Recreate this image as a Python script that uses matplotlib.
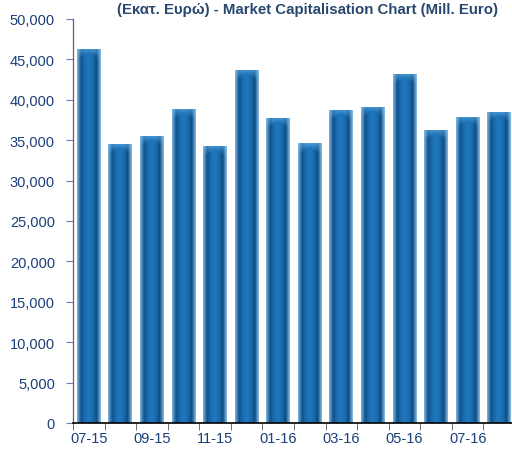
import numpy as np
import matplotlib
matplotlib.use("Agg")
import matplotlib.pyplot as plt
from matplotlib.colors import LinearSegmentedColormap

# Data (million euro)
months = ["07-15", "08-15", "09-15", "10-15", "11-15", "12-15", "01-16",
          "02-16", "03-16", "04-16", "05-16", "06-16", "07-16", "08-16"]
market_cap = [46300, 34500, 35550, 38850, 34300, 43700, 37750,
              34600, 38750, 39150, 43250, 36250, 37850, 38450]
yticks = [0, 5000, 10000, 15000, 20000, 25000, 30000, 35000, 40000, 45000, 50000]
title = "(Εκατ. Ευρώ) - Market Capitalisation Chart (Mill. Euro)"

plt.rcParams['font.family'] = ['Liberation Sans', 'DejaVu Sans']
navy = "#1b3f78"

fig = plt.figure(figsize=(5.12, 4.52), dpi=100)
ax = fig.add_axes([0.1426, 0.062, 0.8633, 0.8938])

x = np.arange(len(months))
bars = ax.bar(x, market_cap, width=0.76, color="#1a6cae", zorder=2)

# cylinder look: horizontal gradient clipped to each bar
cyl = LinearSegmentedColormap.from_list(
    "cyl", ["#7fb4dc", "#0f5290", "#1a6fb2", "#2078bb", "#1a6cae", "#0e4d85", "#8bbde2"])
grad = np.linspace(0, 1, 64).reshape(1, -1)

# soft light overlay at the top of each bar
ny, nx = 24, 32
yy = np.linspace(0, 1, ny).reshape(-1, 1)   # 0 = top
xx = np.abs(np.linspace(-1, 1, nx)).reshape(1, -1)
alpha = np.clip(1 - yy / (0.35 + 0.65 * xx), 0, 1) * 0.55
glow = np.zeros((ny, nx, 4))
glow[..., 0], glow[..., 1], glow[..., 2] = 0.45, 0.75, 0.95
glow[..., 3] = alpha

for b in bars:
    x0, w, h = b.get_x(), b.get_width(), b.get_height()
    im = ax.imshow(grad, cmap=cyl, aspect="auto", extent=[x0, x0 + w, 0, h], zorder=3)
    im.set_clip_path(b)
    cap = ax.imshow(glow, aspect="auto", extent=[x0, x0 + w, h - 1500, h], zorder=4)
    cap.set_clip_path(b)

ax.set_xlim(-0.5, len(months) - 0.5)
ax.set_ylim(0, 50000)

ax.set_yticks(yticks)
ax.set_yticklabels([f"{v:,}" for v in yticks])
ax.set_xticks(x[::2])
ax.set_xticklabels(months[::2])
ax.set_xticks(np.arange(-0.5, len(months), 1), minor=True)
ax.tick_params(axis="x", which="major", length=0, pad=6, labelsize=10.5, labelcolor=navy)
ax.tick_params(axis="x", which="minor", length=5, color="#555555")
ax.tick_params(axis="y", length=5, color="#7a7aa8", pad=8, labelsize=10.5, labelcolor=navy)

for s in ["top", "right"]:
    ax.spines[s].set_visible(False)
ax.spines["left"].set_color("#5c5c9c")
ax.spines["left"].set_linewidth(0.9)
ax.spines["bottom"].set_color("black")
ax.spines["bottom"].set_linewidth(1.2)
ax.spines["bottom"].set_zorder(5)

fig.text(0.600, 0.978, title, ha="center", va="center", fontsize=10.8,
         fontweight="bold", color="#27476e")

fig.savefig("out.png", dpi=100)
